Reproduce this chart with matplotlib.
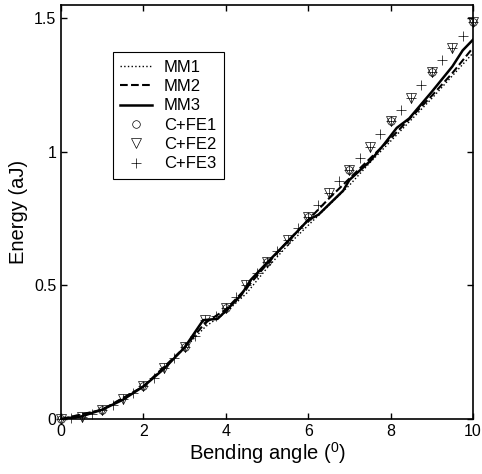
import matplotlib
matplotlib.use("Agg")
import matplotlib.pyplot as plt

plt.rcParams['font.family'] = ['Liberation Sans', 'DejaVu Sans']
plt.rcParams['mathtext.fontset'] = 'custom'
plt.rcParams['mathtext.rm'] = 'Liberation Sans'

# MM curves
mm1_x = [0, 1, 2, 3, 3.5, 4, 4.5, 5, 5.5, 6, 6.5, 7, 7.5, 8, 8.5, 9, 9.5, 10]
mm1_y = [0, 0.035, 0.122, 0.265, 0.345, 0.40, 0.47, 0.565, 0.65, 0.725, 0.80, 0.875,
         0.96, 1.04, 1.12, 1.20, 1.285, 1.37]

mm2_x = [0, 1, 2, 3, 3.5, 4, 4.5, 5, 5.5, 6, 6.5, 7, 7.5, 8, 8.5, 9, 9.5, 10]
mm2_y = [0, 0.035, 0.122, 0.268, 0.36, 0.41, 0.49, 0.58, 0.665, 0.745, 0.825, 0.90,
         0.975, 1.05, 1.13, 1.21, 1.295, 1.39]

mm3_x = [0, 0.5, 1, 1.5, 2, 2.5, 3, 3.45, 3.8, 4, 4.37, 4.6, 5, 5.6, 6, 6.25, 6.85,
         7, 7.5, 7.85, 8.15, 8.45, 9, 9.5, 9.75, 10]
mm3_y = [0, 0.01, 0.035, 0.072, 0.122, 0.188, 0.268, 0.37, 0.375, 0.405, 0.463, 0.52,
         0.585, 0.68, 0.745, 0.765, 0.855, 0.895, 0.965, 1.03, 1.09, 1.125, 1.225,
         1.32, 1.38, 1.42]

# C+FE results
fe1_x = [0, 1, 2, 3, 4, 5, 6, 7, 8, 9, 10]
fe1_y = [0, 0.033, 0.122, 0.268, 0.415, 0.588, 0.758, 0.934, 1.115, 1.30, 1.487]

fe2_x = [0, 0.5, 1, 1.5, 2, 2.5, 3, 3.5, 4, 4.5, 5, 5.5, 6, 6.5, 7, 7.5, 8, 8.5,
         9, 9.5, 10]
fe2_y = [0, 0.009, 0.033, 0.075, 0.122, 0.19, 0.268, 0.37, 0.415, 0.50, 0.588, 0.67,
         0.758, 0.845, 0.934, 1.02, 1.115, 1.20, 1.30, 1.39, 1.487]

fe3_x = [0, 0.25, 0.5, 0.75, 1, 1.25, 1.5, 1.75, 2, 2.25, 2.5, 2.75, 3, 3.25, 3.5,
         3.75, 4, 4.25, 4.5, 4.75, 5, 5.25, 5.5, 5.75, 6, 6.25, 6.5, 6.75, 7, 7.25,
         7.5, 7.75, 8, 8.25, 8.5, 8.75, 9, 9.25, 9.5, 9.75, 10]
fe3_y = [0, 0.003, 0.009, 0.018, 0.033, 0.052, 0.075, 0.097, 0.122, 0.152, 0.19,
         0.228, 0.268, 0.31, 0.37, 0.385, 0.415, 0.455, 0.50, 0.545, 0.588, 0.63,
         0.67, 0.715, 0.758, 0.80, 0.845, 0.89, 0.934, 0.978, 1.02, 1.068, 1.115,
         1.158, 1.20, 1.25, 1.30, 1.343, 1.39, 1.435, 1.487]

x_ticks = [0, 2, 4, 6, 8, 10]
y_ticks = [0, 0.5, 1, 1.5]
y_tick_labels = ['0', '0.5', '1', '1.5']

fig = plt.figure(figsize=(4.82, 4.74), dpi=100)
ax = fig.add_axes([0.1266, 0.116, 0.8547, 0.8735])

ax.plot(mm1_x, mm1_y, color='black', linestyle=':', linewidth=1.0, label='MM1')
ax.plot(mm2_x, mm2_y, color='black', linestyle='--', linewidth=1.5, label='MM2')
ax.plot(mm3_x, mm3_y, color='black', linestyle='-', linewidth=1.8, label='MM3')
ax.plot(fe1_x, fe1_y, linestyle='none', marker='o', markersize=5.5, mfc='none',
        mec='black', mew=0.5, label='C+FE1', clip_on=False)
ax.plot(fe2_x, fe2_y, linestyle='none', marker='v', markersize=6.5, mfc='none',
        mec='black', mew=0.5, label='C+FE2', clip_on=False)
ax.plot(fe3_x, fe3_y, linestyle='none', marker='+', markersize=6.5, color='black',
        mew=0.5, label='C+FE3', clip_on=False)

ax.set_xlim(0, 10)
ax.set_ylim(0, 1.55)
ax.set_xticks(x_ticks)
ax.set_yticks(y_ticks)
ax.set_yticklabels(y_tick_labels)
ax.tick_params(direction='in', top=True, right=True, length=4, width=1.0,
               labelsize=11.5)
for s in ax.spines.values():
    s.set_linewidth(1.2)

ax.set_xlabel(r'Bending angle ($\mathregular{^0}$)', fontsize=14.5, labelpad=1)
ax.set_ylabel('Energy (aJ)', fontsize=14.5, labelpad=4)

leg = ax.legend(loc='upper left', bbox_to_anchor=(0.126, 0.886), borderaxespad=0,
                fontsize=12, handlelength=1.9, labelspacing=0.26,
                fancybox=False, edgecolor='black', framealpha=1,
                borderpad=0.45, handletextpad=0.7)
leg.get_frame().set_linewidth(0.8)

fig.savefig('out.png', dpi=100)
